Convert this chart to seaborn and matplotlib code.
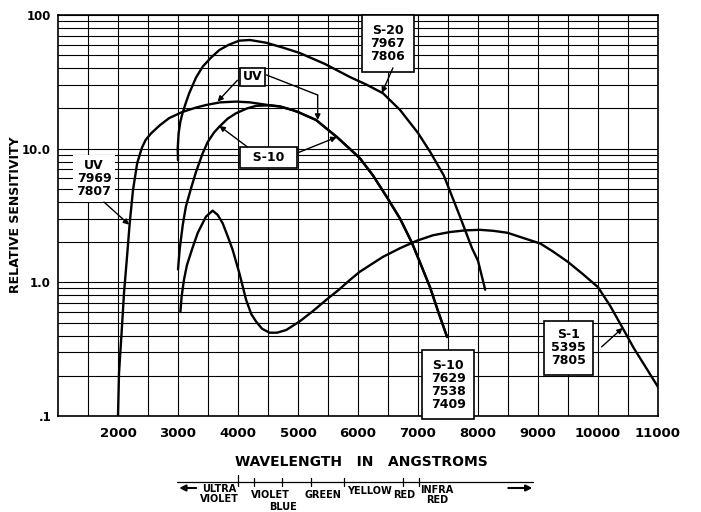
import numpy as np
import pandas as pd
import seaborn as sns
import matplotlib
matplotlib.use('Agg')
import matplotlib.pyplot as plt
from matplotlib.transforms import blended_transform_factory

# Courbes de sensibilite spectrale
uv_wl = [2000, 2017, 2060, 2100, 2155, 2195, 2250, 2320, 2400, 2460, 2550, 2700, 2850,
         3070, 3300, 3465, 3700, 3967, 4200, 4470, 4700, 4900, 5000, 5300, 5650, 5860,
         6030, 6250, 6480, 6700, 6900, 7050, 7200, 7350, 7485]
uv_val = [0.1, 0.21, 0.42, 0.83, 1.65, 2.77, 4.9, 7.8, 10.2, 11.6, 13.0, 15.0, 16.9,
          18.8, 20.3, 21.2, 22.2, 22.5, 22.2, 21.3, 20.7, 19.5, 18.8, 16.4, 12.2, 10.0,
          8.5, 6.3, 4.35, 3.0, 1.97, 1.35, 0.92, 0.58, 0.39]

s10_wl = [3000, 3030, 3080, 3132, 3220, 3300, 3410, 3494, 3600, 3689, 3830, 3967, 4150,
          4300, 4500, 4692, 4900, 5000, 5300, 5650, 5860, 6030, 6250, 6480, 6700, 6900,
          7050, 7200, 7350, 7485]
s10_val = [1.25, 1.8, 2.7, 3.7, 5.1, 6.7, 9.2, 11.2, 13.2, 14.6, 16.8, 18.4, 20.0,
           20.9, 21.1, 20.7, 19.5, 18.8, 16.4, 12.2, 10.0, 8.5, 6.3, 4.35, 3.0, 1.97,
           1.35, 0.92, 0.58, 0.39]

s20_wl = [3000, 2995, 3010, 3040, 3075, 3130, 3187, 3300, 3410, 3550, 3689, 3850, 4023,
          4200, 4470, 4750, 5027, 5450, 5863, 6150, 6415, 6700, 7000, 7200, 7430, 7700,
          7900, 8000, 8120]
s20_val = [8.2, 10.0, 13.0, 16.0, 18.4, 22.0, 26.0, 34.0, 41.0, 48.0, 54.7, 60.0, 64.3,
           65.0, 62.0, 57.0, 52.0, 43.0, 34.4, 30.0, 26.0, 19.5, 13.1, 9.5, 6.3, 3.1,
           1.8, 1.45, 0.88]

s1_wl = [3040, 3060, 3100, 3150, 3240, 3330, 3466, 3577, 3660, 3744, 3830, 3911, 4023,
         4135, 4220, 4300, 4400, 4525, 4650, 4804, 5027, 5250, 5472, 5680, 5863, 6030,
         6415, 6700, 6983, 7250, 7535, 7800, 8037, 8250, 8488, 8750, 9040, 9250, 9500,
         9750, 10000, 10200, 10405, 10600, 10800, 11000]
s1_val = [0.6, 0.78, 1.05, 1.35, 1.8, 2.35, 3.1, 3.44, 3.2, 2.77, 2.2, 1.75, 1.17,
          0.74, 0.58, 0.51, 0.45, 0.42, 0.42, 0.44, 0.51, 0.61, 0.74, 0.88, 1.04, 1.2,
          1.55, 1.8, 2.05, 2.25, 2.38, 2.45, 2.47, 2.43, 2.35, 2.15, 1.95, 1.7, 1.42,
          1.15, 0.92, 0.67, 0.46, 0.32, 0.23, 0.165]

x_ticks = [2000, 3000, 4000, 5000, 6000, 7000, 8000, 9000, 10000, 11000]
y_ticks = [0.1, 1, 10, 100]
y_labels = ['.1', '1.0', '10.0', '100']

# bande des couleurs sous l'axe
band_start, band_end = 2987, 8923
band_ticks = [4000, 4270, 4730, 5210, 5760, 6750, 7020]
band_names = ['ULTRA\nVIOLET', 'VIOLET', 'BLUE', 'GREEN', 'YELLOW', 'RED', 'INFRA\nRED']
band_pos = [3689, 4542, 4742, 5411, 6197, 6766, 7318]
band_y = [494, 495, 507, 495, 491, 495, 495]

curves = pd.concat([
    pd.DataFrame({'wl': uv_wl, 'sens': uv_val, 'tube': 'UV'}),
    pd.DataFrame({'wl': s10_wl, 'sens': s10_val, 'tube': 'S-10'}),
    pd.DataFrame({'wl': s20_wl, 'sens': s20_val, 'tube': 'S-20'}),
    pd.DataFrame({'wl': s1_wl, 'sens': s1_val, 'tube': 'S-1'}),
], ignore_index=True)

sns.set_style('white')
plt.rcParams['font.family'] = ['DejaVu Sans']
plt.rcParams['font.weight'] = 'bold'
plt.rcParams['text.color'] = 'black'
plt.rcParams['xtick.color'] = 'black'
plt.rcParams['ytick.color'] = 'black'

fig = plt.figure(figsize=(7.01, 5.12), dpi=100)
ax = fig.add_axes([58 / 701, 1 - 416 / 512, 600 / 701, 401 / 512])

sns.lineplot(data=curves, x='wl', y='sens', units='tube', estimator=None, sort=False,
             color='black', lw=1.7, legend=False, ax=ax)

ax.set_yscale('log')
ax.set_xlim(1000, 11000)
ax.set_ylim(0.1, 100)
ax.set_xticks(x_ticks)
ax.set_xticklabels([str(t) for t in x_ticks], fontsize=9.5, fontweight='bold')
ax.set_xticks(np.arange(1500, 11000, 1000), minor=True)
ax.set_yticks(y_ticks)
ax.set_yticklabels(y_labels, fontsize=8.5, fontweight='bold')
ax.yaxis.set_minor_locator(matplotlib.ticker.LogLocator(base=10, subs=np.arange(2, 10)))
ax.yaxis.set_minor_formatter(matplotlib.ticker.NullFormatter())
ax.tick_params(which='both', length=0)
ax.tick_params(axis='x', pad=8)
ax.tick_params(axis='y', pad=5)
ax.grid(which='both', color='black', lw=0.8)
ax.set_axisbelow(True)
for sp in ax.spines.values():
    sp.set_color('black')
    sp.set_linewidth(1.2)
ax.set_xlabel('')
ax.set_ylabel('')

fig.text(16 / 701, 1 - 215 / 512, 'RELATIVE SENSITIVITY', rotation=90, ha='center',
         va='center', fontsize=9, fontweight='bold')
fig.text(361 / 701, 1 - 462 / 512, 'WAVELENGTH   IN   ANGSTROMS', ha='center', va='center',
         fontsize=10, fontweight='bold')

# annotations
box = dict(boxstyle='square,pad=0.7', fc='white', ec='black', lw=1.2)
arr = dict(arrowstyle='-|>', color='black', lw=1.0, mutation_scale=8, shrinkA=0, shrinkB=0)
line = dict(arrowstyle='-', color='black', lw=1.0, shrinkA=0, shrinkB=0)

ax.text(1599, 6.0, 'UV\n7969\n7807', ha='center', va='center', fontsize=9,
        fontweight='bold', linespacing=1.0,
        bbox=dict(boxstyle='square,pad=0.3', fc='white', ec='none'))
ax.annotate('', xy=(2185, 2.7), xytext=(1766, 3.99), arrowprops=arr)

ax.text(4241, 34.4, 'UV', ha='center', va='center', fontsize=9, fontweight='bold',
        bbox=dict(boxstyle='square,pad=0.2', fc='white', ec='black', lw=1.2))
ax.annotate('', xy=(3659, 22.5), xytext=(3990, 32.5), arrowprops=arr)
ax.annotate('', xy=(5328, 25.2), xytext=(4475, 35.6), arrowprops=line)
ax.annotate('', xy=(5328, 16.4), xytext=(5328, 25.2), arrowprops=arr)

ax.text(4508, 8.6, '  S-10  ', ha='center', va='center', fontsize=9, fontweight='bold',
        bbox=dict(boxstyle='square,pad=0.3', fc='white', ec='black', lw=1.2))
ax.annotate('', xy=(3689, 14.8), xytext=(4157, 10.3), arrowprops=arr)
ax.annotate('', xy=(5645, 12.2), xytext=(4993, 9.3), arrowprops=arr)

ax.text(6498, 61, 'S-20\n7967\n7806', ha='center', va='center', fontsize=9,
        fontweight='bold', linespacing=1.0, bbox=box)
ax.annotate('', xy=(6398, 26.1), xytext=(6582, 40.2), arrowprops=arr)

ax.text(7502, 0.172, 'S-10\n7629\n7538\n7409', ha='center', va='center', fontsize=9,
        fontweight='bold', linespacing=1.0, bbox=box)

ax.text(9508, 0.323, 'S-1\n5395\n7805', ha='center', va='center', fontsize=9,
        fontweight='bold', linespacing=1.0,
        bbox=dict(boxstyle='square,pad=0.6', fc='white', ec='black', lw=1.2))
ax.annotate('', xy=(10411, 0.456), xytext=(10060, 0.329), arrowprops=arr)

# bande spectrale
tr = blended_transform_factory(ax.transData, fig.transFigure)


def fy(px):
    return 1 - px / 512


ax.plot([band_start, band_end], [fy(482), fy(482)], color='black', lw=0.9,
        transform=tr, clip_on=False)
for i, t in enumerate(band_ticks):
    top = 475 if i == 0 else 478
    ax.plot([t, t], [fy(top), fy(486)], color='black', lw=0.9, transform=tr, clip_on=False)
for name, xp, yp in zip(band_names, band_pos, band_y):
    ax.text(xp, fy(yp), name, ha='center', va='center', fontsize=7, fontweight='bold',
            linespacing=0.95, transform=tr, clip_on=False)
ax.annotate('', xy=(3020, fy(488)), xytext=(3304, fy(488)), xycoords=tr, textcoords=tr,
            arrowprops=dict(arrowstyle='-|>', color='black', lw=1.5, mutation_scale=9,
                            shrinkA=0, shrinkB=0), annotation_clip=False)
ax.annotate('', xy=(8906, fy(488)), xytext=(8505, fy(488)), xycoords=tr, textcoords=tr,
            arrowprops=dict(arrowstyle='-|>', color='black', lw=1.5, mutation_scale=9,
                            shrinkA=0, shrinkB=0), annotation_clip=False)

fig.savefig('out.png', dpi=100)
